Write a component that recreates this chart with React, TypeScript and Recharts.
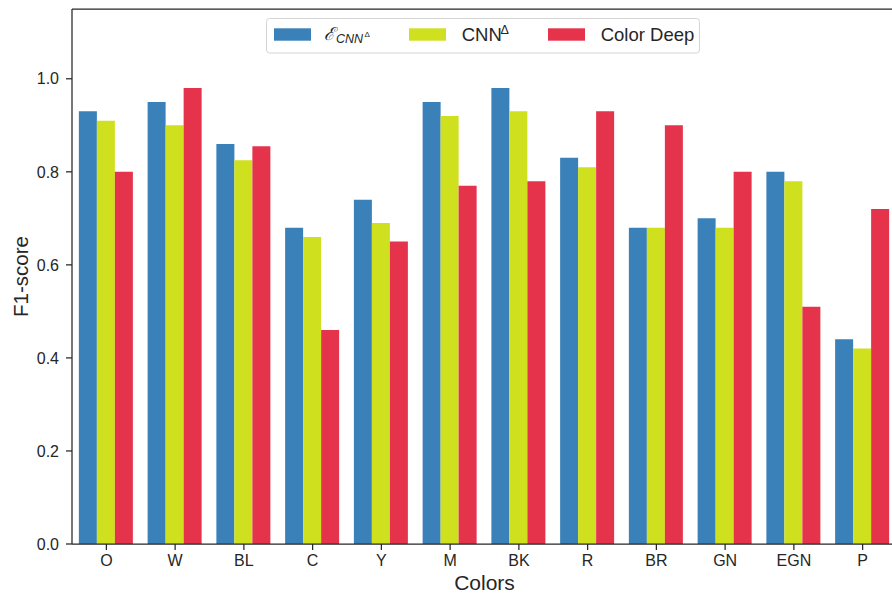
import React from "react";
import { BarChart, Bar, XAxis, YAxis, ReferenceLine } from "recharts";

const categories = ["O", "W", "BL", "C", "Y", "M", "BK", "R", "BR", "GN", "EGN", "P"];
const ecnn = [0.93, 0.95, 0.86, 0.68, 0.74, 0.95, 0.98, 0.83, 0.68, 0.70, 0.80, 0.44];
const cnn = [0.91, 0.90, 0.825, 0.66, 0.69, 0.92, 0.93, 0.81, 0.68, 0.68, 0.78, 0.42];
const colorDeep = [0.80, 0.98, 0.855, 0.46, 0.65, 0.77, 0.78, 0.93, 0.90, 0.80, 0.51, 0.72];
const yTicks = [0, 0.2, 0.4, 0.6, 0.8, 1.0];

const data = categories.map((c, i) => ({ name: c, ecnn: ecnn[i], cnn: cnn[i], deep: colorDeep[i] }));

const BLUE = "#3a81ba";
const YELLOW = "#cfe01e";
const RED = "#e6334c";
const AX = "#262626";
const TXT = "#262626";
const FONT = "'Liberation Sans', Arial, sans-serif";

const LegendOverlay = () => (
  <svg width={892} height={597} style={{ position: "absolute", left: 0, top: 0, pointerEvents: "none" }}>
    <rect x={266.5} y={18.5} width={433} height={34.5} rx={3} fill="#ffffff" fillOpacity={0.85} stroke="#d4d4d4" strokeWidth={1} />
    <rect x={274} y={28.3} width={37} height={12.4} fill={BLUE} />
    <rect x={409} y={28.3} width={37} height={12.4} fill={YELLOW} />
    <rect x={548} y={28.3} width={37} height={12.4} fill={RED} />
    <text x={324} y={40} fontFamily="'DejaVu Serif', serif" fontStyle="italic" fontSize={18} fill={TXT}>ℰ</text>
    <text x={336} y={43.3} fontFamily={FONT} fontStyle="italic" fontSize={12.5} fill={TXT}>CNN</text>
    <text x={364.5} y={36.7} fontFamily={FONT} fontSize={8} fill={TXT}>Δ</text>
    <text x={461.7} y={40.7} fontFamily={FONT} fontSize={18.5} fill={TXT}>CNN</text>
    <text x={500.5} y={34} fontFamily={FONT} fontSize={12.5} fill={TXT}>Δ</text>
    <text x={600.7} y={40.7} fontFamily={FONT} fontSize={18.5} fill={TXT}>Color Deep</text>
  </svg>
);

const YLabel = (props: any) => {
  const vb = props.viewBox || { y: 9, height: 535 };
  const cy = vb.y + vb.height / 2;
  return (
    <text
      x={0}
      y={0}
      transform={`translate(28.3, ${cy}) rotate(-90)`}
      textAnchor="middle"
      fontFamily={FONT}
      fontSize={20.5}
      fill={TXT}
    >
      F1-score
    </text>
  );
};

export default function App() {
  return (
    <div style={{ position: "absolute", left: 0, top: 0, width: 892, height: 597, overflow: "hidden", background: "#fff" }}>
      <BarChart
        width={910}
        height={597}
        data={data}
        margin={{ top: 9, right: 13, bottom: 0, left: 0 }}
        barCategoryGap="10%"
        barGap={0}
      >
        <XAxis
          dataKey="name"
          height={53}
          tickLine={{ stroke: AX, strokeWidth: 1.25 }}
          axisLine={{ stroke: AX, strokeWidth: 1.25 }}
          tickSize={6}
          tickMargin={5}
          tick={{ fill: TXT, fontSize: 16, fontFamily: FONT }}
          label={{ value: "Colors", position: "insideBottom", offset: 7, fill: TXT, fontSize: 21, fontFamily: FONT }}
        />
        <YAxis
          width={72}
          domain={[0, 1.15]}
          ticks={yTicks}
          allowDataOverflow
          tickFormatter={(v: number) => v.toFixed(1)}
          tickLine={{ stroke: AX, strokeWidth: 1.25 }}
          axisLine={{ stroke: AX, strokeWidth: 1.25 }}
          tickSize={6}
          tickMargin={7}
          tick={{ fill: TXT, fontSize: 16, fontFamily: FONT }}
          label={{ content: YLabel }}
        />
        <ReferenceLine y={1.15} stroke={AX} strokeWidth={1.25} ifOverflow="visible" />
        <Bar dataKey="ecnn" fill={BLUE} isAnimationActive={false} />
        <Bar dataKey="cnn" fill={YELLOW} isAnimationActive={false} />
        <Bar dataKey="deep" fill={RED} isAnimationActive={false} />
      </BarChart>
      <LegendOverlay />
    </div>
  );
}
